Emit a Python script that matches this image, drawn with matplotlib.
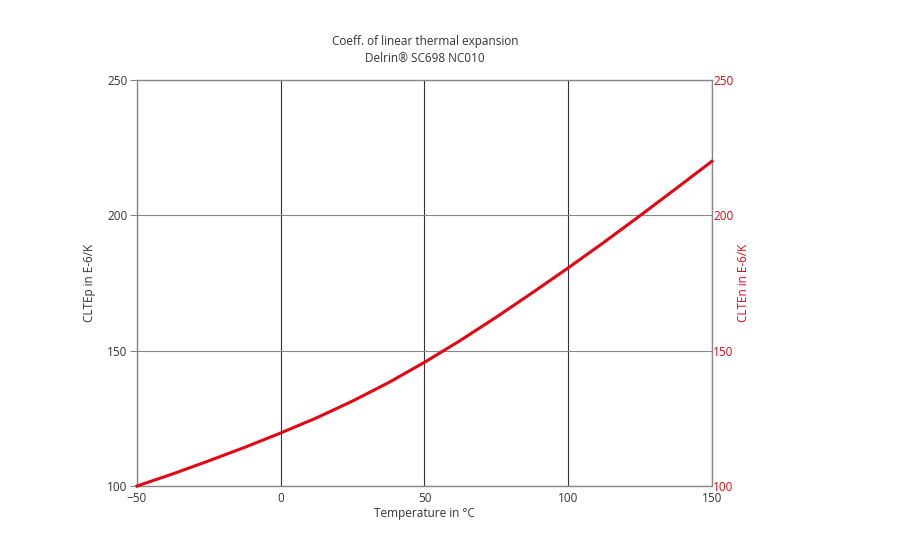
import matplotlib.pyplot as plt

temperature = [-50, -37.5, -25, -12.5, 0, 12.5, 25, 37.5, 50,
               62.5, 75, 87.5, 100, 112.5, 125, 137.5, 150]
clte = [100, 104.5, 109.3, 114.3, 119.6, 125.2, 131.4, 138.2, 145.7,
        153.8, 162.4, 171.4, 180.6, 190.1, 199.9, 209.9, 220]

x_ticks = [-50, 0, 50, 100, 150]
y_ticks = [100, 150, 200, 250]

plt.rcParams['font.family'] = ['Open Sans', 'DejaVu Sans']

fig = plt.figure(figsize=(9, 5.48), dpi=100)
ax = fig.add_axes([0.1522, 0.1131, 0.6389, 0.7409])

red = '#e30613'
ax.plot(temperature, clte, color=red, lw=2.2, zorder=3, clip_on=False,
        solid_joinstyle='round')

ax.set_xlim(-50, 150)
ax.set_ylim(100, 250)
ax.set_xticks(x_ticks)
ax.set_yticks(y_ticks)
ax.grid(axis='x', color='#333333', lw=0.8)
ax.grid(axis='y', color='#888888', lw=0.8)
for s in ax.spines.values():
    s.set_color('#888888')
    s.set_linewidth(1.0)
ax.tick_params(axis='x', length=0, labelsize=8.5, colors='#333333', pad=4)
ax.tick_params(axis='y', length=5, color='#888888', labelsize=8.5, labelcolor='#333333', pad=2)

ax.set_xlabel('Temperature in °C', fontsize=8.5, color='#333333', labelpad=2)
ax.set_ylabel('CLTEp in E-6/K', fontsize=8.5, color='#333333', labelpad=8)

ax2 = ax.twinx()
ax2.set_ylim(100, 250)
ax2.set_yticks(y_ticks)
ax2.tick_params(axis='y', length=0, labelsize=8.5, labelcolor=red, pad=1)
ax2.set_ylabel('CLTEn in E-6/K', fontsize=8.5, color=red, labelpad=2)
for s in ax2.spines.values():
    s.set_visible(False)

fig.text(0.4722, 0.918, 'Coeff. of linear thermal expansion', ha='center', fontsize=8.5, color='#333333')
fig.text(0.4722, 0.8875, 'Delrin® SC698 NC010', ha='center', fontsize=8.5, color='#333333')

fig.savefig('out.png', dpi=100)
